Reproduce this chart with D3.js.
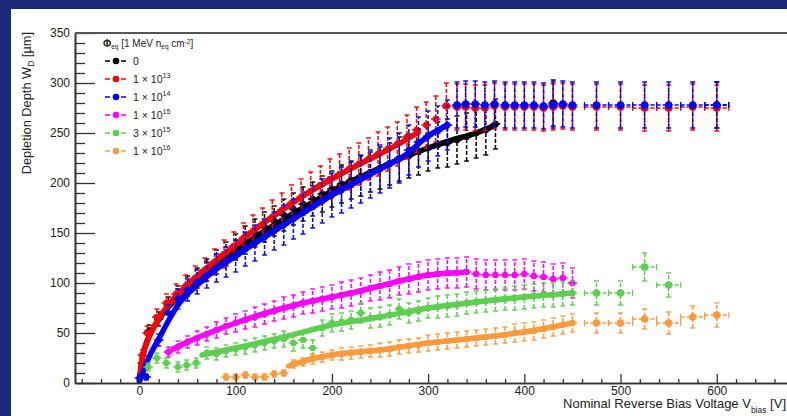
<!DOCTYPE html>
<html><head><meta charset="utf-8">
<script src="https://cdn.jsdelivr.net/npm/d3@7"></script>
<style>
body{margin:0;background:#1b2a78;}
svg{display:block;font-family:"Liberation Sans",Arial,Helvetica,sans-serif;}
</style>
</head><body><svg id="c" width="787" height="416"></svg>
<script>
// ---------------- data ----------------
const yMajorTicks = [0,50,100,150,200,250,300,350];
const xMajorTicks = [0,100,200,300,400,500,600];
const yMinorTicks = [10,20,30,40,60,70,80,90,110,120,130,140,160,170,180,190,210,220,230,240,260,270,280,290,310,320,330,340];
const xMinorTicks = [-60,-40,-20,20,40,60,80,120,140,160,180,220,240,260,280,320,340,360,380,420,440,460,480,520,540,560,580,620,640,660];

const legendLabels = ["0","1 × 10|13","1 × 10|14","1 × 10|15","3 × 10|15","1 × 10|16"];

// fluence 0
const blackV = [3,10,20,30,40,50,60,70,80,90,100,110,120,130,140,150,160,170,180,190,200,210,220,230,240,250,260,270,280,290,300,310,320,330,340,350,360,370,430,600];
const blackW = [20,52,64,78,88,97,105,113,121,129,136,143,150,156,162,168,174,179,184,189,194,199,203,207,211,215,219,224,227,231,235,238,240,243,246,250,253,259,280,278];
const blackE = [3,6,7,8,9,10,10,11,12,12,13,14,14,15,15,16,16,17,17,18,18,19,19,20,20,21,21,22,22,23,23,23,24,24,24,25,25,25,23,23];
const blackFitV = [0,3,8,15,25,40,60,80,100,125,150,175,200,225,250,275,300,325,350,370];
const blackFitW = [2,25,42,56,70,86,102,118,132,149,164,178,192,204,215,226,235,243,250,258];

// 1e13
const redV = [3,8,18,28,38,48,58,68,78,88,98,108,118,128,138,148,158,168,178,188,198,208,218,228,238,248,258,268,278,288,298,308,319,330,339,349,359,369,380,390,400,410,420,430,440,450,475,500,525,550,575,600];
const redW = [28,50,66,80,89,97,105,113,121,129,137,145,152,159,166,173,180,186,192,198,204,209,214,219,224,229,234,239,246,253,258,264,277,276,276,275,275,277,276,276,276,276,275,276,277,276,276,276,275,275,276,275];
const redE = [5,7,8,9,10,11,12,12,13,14,14,15,16,16,17,17,18,18,19,19,20,20,21,21,21,22,22,22,22,23,23,23,23,23,23,23,23,23,23,23,23,23,23,23,23,23,23,23,23,23,23,23];
const redFitV = [0,2,5,10,20,30,50,75,100,125,150,175,200,225,250,275,290];
const redFitW = [3,20,33,46,64,78,98,119,138,157,174,190,204,217,229,242,251];

// 1e14
const blueV = [0,7,20,30,40,50,60,70,80,90,100,110,120,130,140,150,160,170,180,190,200,210,220,230,240,250,260,270,280,290,300,310,320,330,339,349,359,369,380,390,400,410,420,430,440,450,475,500,525,550,575,600];
const blueW = [5,6,43,70,84,93,101,108,115,121,127,134,140,146,152,158,164,170,176,182,188,193,198,204,209,214,220,225,233,241,247,252,258,278,279,279,278,279,278,278,278,278,277,278,279,278,278,278,278,278,278,278];
const blueE = [3,3,6,8,10,11,12,13,14,15,16,17,18,18,19,20,20,21,21,22,22,23,23,24,24,24,25,25,25,25,25,25,25,23,23,23,23,23,23,23,23,23,23,23,23,23,23,23,23,23,23,23];
const blueFitV = [0,5,10,20,30,40,60,80,100,125,150,175,200,225,250,275,300,320];
const blueFitW = [2,14,26,44,62,78,98,114,127,143,158,173,188,201,214,227,247,258];

// 1e15
const magentaV = [30,40,50,60,70,80,90,100,110,120,130,140,150,160,170,180,190,200,210,220,230,240,250,260,270,280,290,300,310,320,330,340,350,360,370,380,390,400,410,420,430,440,450];
const magentaW = [31,36,41,45,49,53,57,60,63,66,69,72,75,77,80,82,84,86,88,90,92,95,97,99,102,104,106,108,109,110,110,111,109,108,108,108,108,109,107,106,104,105,100];
const magentaE = [5,6,6,7,7,8,8,9,9,10,10,10,11,11,11,12,12,12,13,13,13,13,14,14,14,15,15,15,15,15,15,15,15,15,15,15,15,15,15,15,15,15,15];
const magentaFitV = [35,50,75,100,125,150,175,200,225,250,275,300,325,340];
const magentaFitW = [34,41,51,60,68,75,81,86,91,97,103,108,110,111];

// 3e15
const greenV = [9,18,28,40,49,59,70,80,90,100,110,120,130,140,150,160,170,180,190,200,210,220,230,240,250,260,270,280,290,300,310,320,330,340,350,360,370,380,390,400,410,420,430,440,450,475,500,525,550];
const greenW = [16,25,20,16,18,20,30,29,32,34,36,38,40,42,44,40,43,35,55,60,61,63,70,65,66,68,74,70,72,75,76,77,78,80,81,82,83,84,85,86,87,88,88,89,90,90,90,116,98];
const greenE = [4,5,5,5,5,5,6,6,6,6,7,7,7,7,8,8,8,8,8,9,9,9,10,10,10,10,10,10,10,10,11,11,11,11,11,11,11,11,12,12,12,12,12,12,12,12,12,14,12];
const greenFitV = [65,100,150,200,250,300,350,400,450];
const greenFitW = [28,35,46,58,66,75,81,86,90];

// 1e16
const orangeV = [90,100,110,120,130,140,150,160,170,180,190,200,210,220,230,240,250,260,270,280,290,300,310,320,330,340,350,360,370,380,390,400,410,420,430,440,450,475,500,525,550,575,600];
const orangeW = [6,6,8,6,6,9,10,19,21,24,26,28,29,30,31,32,33,34,36,37,38,40,41,42,43,44,45,46,47,48,50,51,52,54,56,58,60,60,60,64,60,66,68];
const orangeE = [3,3,3,3,3,3,3,4,4,5,5,5,6,6,6,6,7,7,7,7,7,8,8,8,8,8,8,8,8,8,9,9,9,9,9,9,9,10,10,10,11,11,12];
const orangeFitV = [155,175,200,250,300,350,400,450];
const orangeFitW = [17,23,28,33,40,45,51,60];

const colors = ["#000000","#ff0000","#0000ff","#ff00ff","#5ccf50","#ff9a3c"];

// ---------------- drawing ----------------
const svg = d3.select("#c");
svg.append("rect").attr("width",787).attr("height",416).attr("fill","#1b2a78");
svg.append("rect").attr("x",11).attr("y",9).attr("width",776).attr("height",407).attr("fill","#ffffff");

const x = d3.scaleLinear().domain([-67,673]).range([75,787]);
const y = d3.scaleLinear().domain([0,350]).range([383,33]);

const mk = (V,W,E,FV,FW,c) => ({pts:V.map((v,i)=>({v:v,w:W[i],e:E[i]})), fit:FV.map((v,i)=>({v:v,w:FW[i]})), color:c});
const series = [
  mk(blackV,blackW,blackE,blackFitV,blackFitW,colors[0]),
  mk(redV,redW,redE,redFitV,redFitW,colors[1]),
  mk(blueV,blueW,blueE,blueFitV,blueFitW,colors[2]),
  mk(magentaV,magentaW,magentaE,magentaFitV,magentaFitW,colors[3]),
  mk(greenV,greenW,greenE,greenFitV,greenFitW,colors[4]),
  mk(orangeV,orangeW,orangeE,orangeFitV,orangeFitW,colors[5])
];

const plot = svg.append("g");
const line = d3.line().x(d=>x(d.v)).y(d=>y(d.w)).curve(d3.curveMonotoneX);

series.forEach(s=>{
  const g = plot.append("g");
  s.pts.forEach(p=>{
    const sparse = p.v >= 470;
    const xe = sparse ? 12.5 : 5;
    const cx = x(p.v), cy = y(p.w);
    g.append("line").attr("x1",x(p.v-xe)).attr("x2",x(p.v+xe)).attr("y1",cy).attr("y2",cy)
      .attr("stroke",s.color).attr("stroke-width",1.5).attr("stroke-dasharray","4,2");
    if (sparse) {
      [p.v-xe,p.v+xe].forEach(vv=>g.append("line").attr("x1",x(vv)).attr("x2",x(vv)).attr("y1",cy-3).attr("y2",cy+3)
        .attr("stroke",s.color).attr("stroke-width",1.2));
    }
    g.append("line").attr("x1",cx).attr("x2",cx).attr("y1",y(p.w-p.e)).attr("y2",y(p.w+p.e))
      .attr("stroke",s.color).attr("stroke-width",1.5).attr("stroke-dasharray","4,2");
    [p.w-p.e,p.w+p.e].forEach(ww=>g.append("line").attr("x1",cx-2.5).attr("x2",cx+2.5).attr("y1",y(ww)).attr("y2",y(ww))
      .attr("stroke",s.color).attr("stroke-width",1.4));
    g.append("circle").attr("cx",cx).attr("cy",cy).attr("r",sparse||p.w>270?3.8:3.2).attr("fill",s.color);
  });
  g.append("path").datum(s.fit).attr("d",line).attr("fill","none")
    .attr("stroke",s.color).attr("stroke-width",5.5).attr("stroke-linecap","round");
});

// ---------------- axes ----------------
const axisColor = "#333";
svg.append("g").attr("transform","translate(75,0)")
  .call(d3.axisLeft(y).tickValues(yMajorTicks).tickSize(-20).tickSizeOuter(0).tickPadding(5).tickFormat(d3.format("d")));
svg.append("g").attr("transform","translate(75,0)")
  .call(d3.axisLeft(y).tickValues(yMinorTicks).tickSize(-10).tickSizeOuter(0).tickFormat(""));
svg.append("g").attr("transform","translate(0,383)")
  .call(d3.axisBottom(x).tickValues(xMajorTicks).tickSize(-9).tickSizeOuter(0).tickPadding(3).tickFormat(d3.format("d")));
svg.append("g").attr("transform","translate(0,383)")
  .call(d3.axisBottom(x).tickValues(xMinorTicks).tickSize(-4).tickSizeOuter(0).tickFormat(""));
svg.selectAll(".domain").attr("stroke",axisColor).attr("stroke-width",1.6);
svg.selectAll(".tick line").attr("stroke",axisColor).attr("stroke-width",1.3);
svg.selectAll(".tick text").attr("font-size",12).attr("fill","#222")
  .attr("font-family","'Liberation Sans',Arial,sans-serif");
svg.append("line").attr("x1",75).attr("x2",787).attr("y1",y(350)).attr("y2",y(350))
  .attr("stroke","#555").attr("stroke-width",2);

// ---------------- titles ----------------
const yt = svg.append("text").attr("transform","translate(31,32) rotate(-90)")
  .attr("text-anchor","end").attr("font-size",12.8).attr("fill","#222");
yt.append("tspan").text("Depletion Depth W");
yt.append("tspan").attr("font-size",8.5).attr("dy",3).text("D");
yt.append("tspan").attr("dy",-3).text(" [µm]");

const xt = svg.append("text").attr("x",786).attr("y",408)
  .attr("text-anchor","end").attr("font-size",13).attr("fill","#222");
xt.append("tspan").text("Nominal Reverse Bias Voltage V");
xt.append("tspan").attr("font-size",8.5).attr("dy",5).text("bias");
xt.append("tspan").attr("dy",-5).text(" [V]");

// ---------------- legend ----------------
const lg = svg.append("g");
const hdr = lg.append("text").attr("x",103).attr("y",47).attr("font-size",10).attr("fill","#222");
hdr.append("tspan").attr("font-weight","bold").text("Φ");
hdr.append("tspan").attr("font-size",6.5).attr("dy",2).text("eq");
hdr.append("tspan").attr("dy",-2).text(" [1 MeV n");
hdr.append("tspan").attr("font-size",6.5).attr("dy",2).text("eq");
hdr.append("tspan").attr("dy",-2).text(" cm");
hdr.append("tspan").attr("font-size",6.5).attr("dy",-3.5).text("-2");
hdr.append("tspan").attr("dy",3.5).text("]");

legendLabels.forEach((lab,i)=>{
  const ly = 61 + i*18;
  const c = colors[i];
  lg.append("line").attr("x1",105).attr("x2",127).attr("y1",ly).attr("y2",ly)
    .attr("stroke",c).attr("stroke-width",1.4).attr("stroke-dasharray","5,3");
  lg.append("circle").attr("cx",116).attr("cy",ly).attr("r",3.3).attr("fill",c);
  const t = lg.append("text").attr("x",133).attr("y",ly+4).attr("font-size",10.5).attr("fill","#222");
  const parts = lab.split("|");
  t.append("tspan").text(parts[0]);
  if (parts[1]) t.append("tspan").attr("font-size",7).attr("dy",-5).text(parts[1]);
});
</script></body></html>
